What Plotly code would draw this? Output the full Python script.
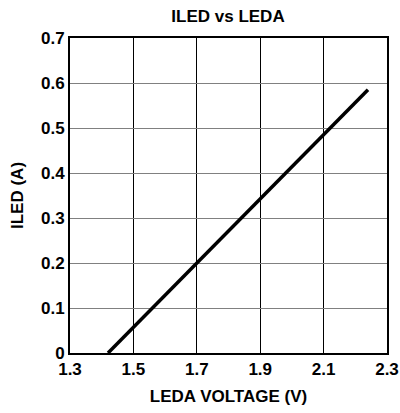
import plotly.graph_objects as go

voltage = [1.42, 1.5, 1.7, 1.9, 2.1, 2.24]
current = [0.0, 0.057, 0.2, 0.343, 0.487, 0.585]
x_ticks = [1.3, 1.5, 1.7, 1.9, 2.1, 2.3]
x_labels = ["1.3", "1.5", "1.7", "1.9", "2.1", "2.3"]
y_ticks = [0, 0.1, 0.2, 0.3, 0.4, 0.5, 0.6, 0.7]
y_labels = ["0", "0.1", "0.2", "0.3", "0.4", "0.5", "0.6", "0.7"]

FAM = "Liberation Sans, Arial, sans-serif"
font = dict(family=FAM, size=17, color="black", weight="bold")

fig = go.Figure()
fig.add_trace(go.Scatter(x=voltage, y=current, mode="lines",
                         line=dict(color="black", width=3.5), showlegend=False))

fig.update_layout(
    width=400, height=413,
    margin=dict(l=70, r=13, t=38, b=60),
    paper_bgcolor="white", plot_bgcolor="white",
    font=font,
    title=dict(text="ILED vs LEDA", x=0.57, xanchor="center", y=0.961, yanchor="middle",
               font=font),
    xaxis=dict(range=[1.3, 2.3], tickvals=x_ticks, ticktext=x_labels,
               showgrid=True, gridcolor="black", gridwidth=1,
               showline=True, linecolor="black", linewidth=2, mirror=True,
               ticks="", zeroline=False, tickfont=font, automargin=False,
               title=dict(text="LEDA VOLTAGE (V)", font=font, standoff=12)),
    yaxis=dict(range=[0, 0.7], tickvals=y_ticks, ticktext=y_labels,
               showgrid=True, gridcolor="#808080", gridwidth=1,
               showline=True, linecolor="black", linewidth=2, mirror=True,
               ticks="", zeroline=False, tickfont=font, automargin=False,
               title=dict(text="ILED (A)", font=font, standoff=13)),
)

fig.write_html("out.html",
               config={"displayModeBar": False},
               post_script="document.body.style.margin='0';document.body.style.overflow='hidden';")
